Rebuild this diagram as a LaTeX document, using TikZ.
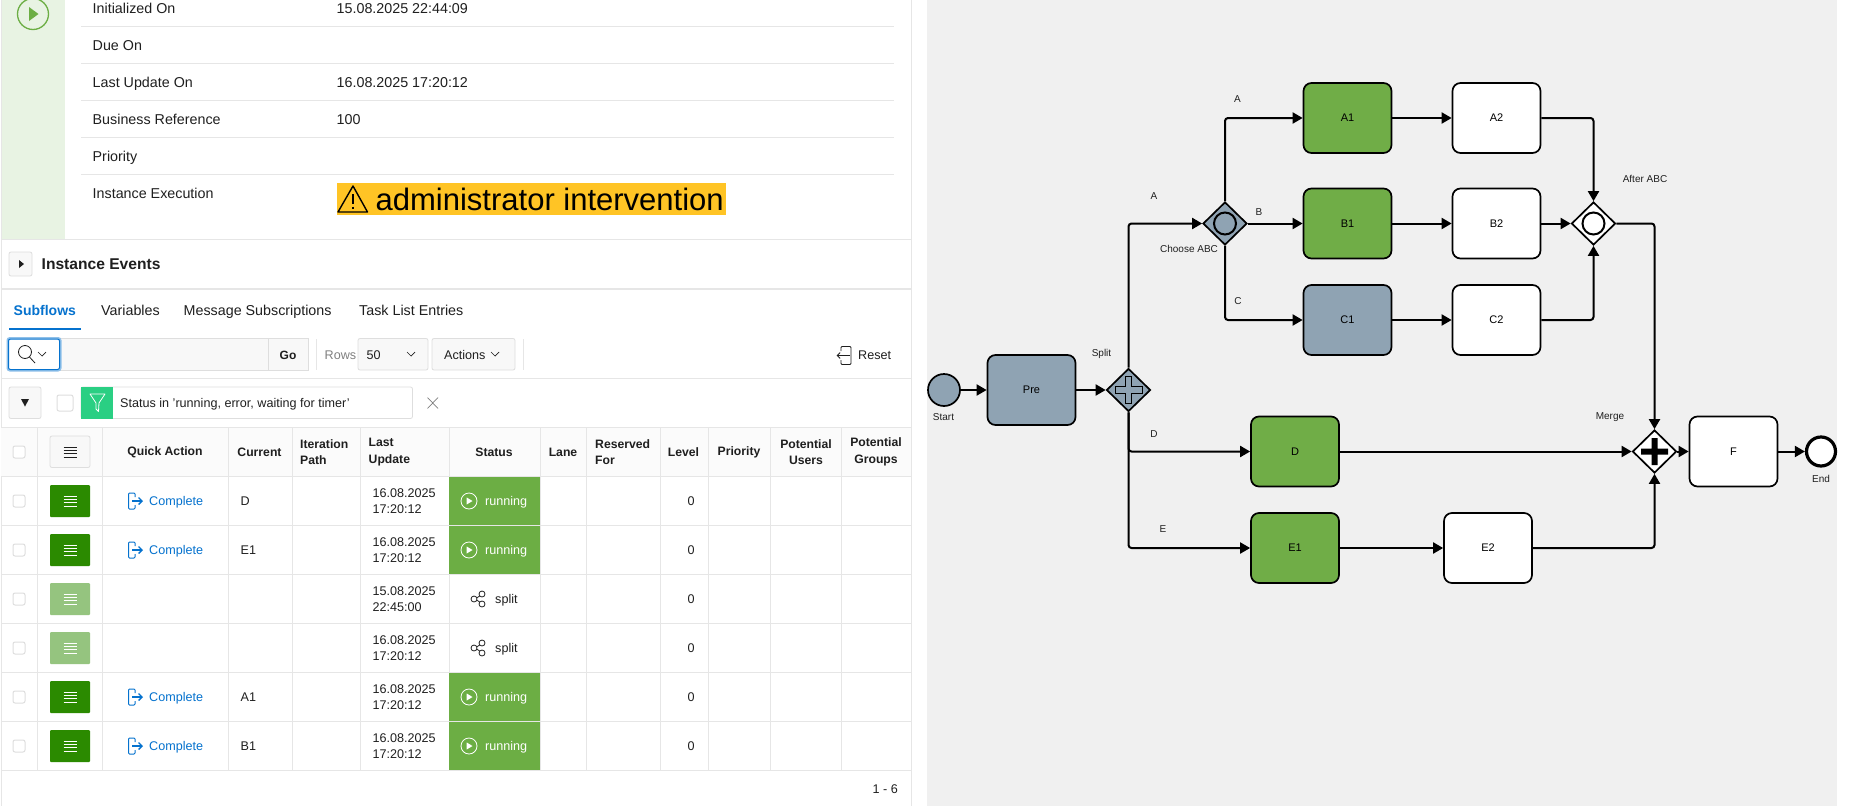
\documentclass[tikz,border=0pt]{standalone}
\usepackage{fontspec}
\setmainfont{Liberation Sans}
\usetikzlibrary{arrows.meta,shapes.geometric}
\definecolor{canvas}{HTML}{F0F0F0}
\definecolor{taskgreen}{HTML}{70AD47}
\definecolor{taskgrey}{HTML}{8FA3B3}
\definecolor{runfill}{HTML}{6CAE44}
\definecolor{stripgreen}{HTML}{E8F3E3}
\definecolor{hairline}{HTML}{E6E6E6}
\definecolor{btnborder}{HTML}{DEDEDE}
\definecolor{btnfill}{HTML}{F8F8F8}
\definecolor{apexblue}{HTML}{0572CE}
\definecolor{menugreen}{HTML}{2B8A00}
\definecolor{menulight}{HTML}{95C47F}
\definecolor{warnfill}{HTML}{FFC425}
\definecolor{chipgreen}{HTML}{2ACF83}
\definecolor{inktext}{HTML}{1F1F1F}
\tikzset{
  task/.style={draw=black, line width=1.7pt, rounded corners=8pt, minimum width=88pt, minimum height=70pt, inner sep=0pt, font=\fontsize{11}{13}\selectfont},
  gateway/.style={diamond, draw=black, line width=1.7pt, minimum width=44pt, minimum height=43pt, inner sep=0pt, aspect=1},
  event/.style={circle, draw=black, line width=1.7pt, minimum size=32pt, inner sep=0pt},
  seqflow/.style={draw=black, line width=2pt, rounded corners=3pt, -{Triangle[length=10pt,width=11pt]}},
  flowlabel/.style={inner sep=0pt, text=inktext, font=\fontsize{10}{12}\selectfont},
  uitext/.style={inner sep=0pt, anchor=west, text=inktext, text height=9.5pt, text depth=0pt, font=\fontsize{14.3}{16}\selectfont},
  celltext/.style={inner sep=0pt, anchor=west, text=inktext, text height=9pt, text depth=0pt, font=\fontsize{12.6}{15}\selectfont},
  headtext/.style={inner sep=0pt, text=inktext, align=center, font=\bfseries\fontsize{12.2}{16.5}\selectfont},
  uibutton/.style={draw=btnborder, fill=btnfill, line width=.8pt, rounded corners=2pt},
  tickbox/.style={draw=btnborder, fill=white, line width=1pt, rounded corners=2pt},
}
\newcommand{\chevmark}[2]{\draw [inktext, line width=.7pt] (#1-4,#2-2) -- (#1,#2+2) -- (#1+4,#2-2);}
\newcommand{\listmark}[3]{\foreach \k in {-5,-1.7,1.7,5} {\draw [#1, line width=.9pt] (#2-6.5,#3+\k) -- (#2+6.5,#3+\k);}}
\newcommand{\playmark}[4]{%
  \draw [#1, line width=#4] (#2,#3) circle (8pt);
  \fill [#1] (#2-2.3,#3-3.5) -- (#2+3.5,#3) -- (#2-2.3,#3+3.5) -- cycle;}
\newcommand{\exitmark}[1]{%
  \draw [apexblue, line width=1pt, rounded corners=1pt] (135,#1-4) -- (135,#1-8) -- (128.5,#1-8) -- (128.5,#1+8) -- (135,#1+8) -- (135,#1+4);
  \draw [apexblue, line width=1.3pt, -{Straight Barb[length=3.5pt,width=7pt]}] (132,#1) -- (143,#1);}
\newcommand{\sharemark}[1]{%
  \draw [inktext, line width=.8pt] (475,#1) -- (482,#1-4.5) (475,#1) -- (482,#1+4.5);
  \draw [inktext, line width=.8pt, fill=white] (474,#1) circle (3pt) (482,#1-5) circle (3pt) (482,#1+5) circle (3pt);}
\begin{document}
\begin{tikzpicture}[x=1pt, y=-1pt]
  \useasboundingbox (0,0) rectangle (1853,806);
  \fill [white] (0,0) rectangle (1853,806);

  \fill [stripgreen] (1,0) rectangle (65,239);
  \draw [runfill, line width=1.3pt] (33,14) circle (15.5pt);
  \fill [runfill] (29,7) -- (38.5,14) -- (29,21) -- cycle;
  \draw [hairline, line width=1pt] (1,0) -- (1,806) (911,0) -- (911,806);
  \foreach \y in {26.5,63.5,100.5,137.5,174.5} {\draw [hairline, line width=.8pt] (81,\y) -- (894,\y);}
  \node [uitext] (initlabel) at (92.5,8.5) {Initialized On};
  \node [uitext] (initvalue) at (336.5,8.5) {15.08.2025 22:44:09};
  \node [uitext] (duelabel) at (92.5,45.5) {Due On};
  \node [uitext] (updlabel) at (92.5,82.5) {Last Update On};
  \node [uitext] (updvalue) at (336.5,82.5) {16.08.2025 17:20:12};
  \node [uitext] (buslabel) at (92.5,119.5) {Business Reference};
  \node [uitext] (busvalue) at (336.5,119.5) {100};
  \node [uitext] (priolabel) at (92.5,156.5) {Priority};
  \node [uitext] (execlabel) at (92.5,193.5) {Instance Execution};
  \fill [warnfill] (336.5,183) rectangle (726,215);
  \draw [black, line width=1.4pt, line join=round] (353,186) -- (367.5,212) -- (338,212) -- cycle;
  \draw [black, line width=1.8pt] (353,194) -- (353,204) (353,206.5) -- (353,208.5);
  \node [inner sep=0pt, anchor=west, text=black, font=\fontsize{31}{34}\selectfont] (execvalue) at (375.5,199) {administrator intervention};

  \draw [hairline, line width=1.5pt] (1,239.5) -- (911,239.5) (1,289) -- (911,289);
  \draw [uibutton] (9,252) rectangle (32,276);
  \fill [inktext] (19,260) -- (24,264) -- (19,268) -- cycle;
  \node [inner sep=0pt, anchor=west, text=inktext, font=\bfseries\fontsize{15.6}{20}\selectfont] (eventstitle) at (41.5,264.5) {Instance Events};

  \node [uitext, text=apexblue, font=\bfseries\fontsize{14}{16}\selectfont] (tabsubflows) at (13.5,311) {Subflows};
  \draw [apexblue, line width=2pt] (9,329) -- (81,329);
  \node [uitext] (tabvars) at (101,311) {Variables};
  \node [uitext] (tabmsg) at (183.5,311) {Message Subscriptions};
  \node [uitext] (tabtasks) at (359,311) {Task List Entries};

  \draw [btnborder, fill=btnfill, line width=.8pt] (60,338.5) rectangle (308,370);
  \draw [btnborder, line width=.8pt] (268,338.5) -- (268,370);
  \draw [hairline, line width=.8pt] (316,339) -- (316,370) (523,339) -- (523,370);
  \draw [apexblue!45, line width=3pt, rounded corners=2pt] (8,338.5) rectangle (60,370);
  \draw [apexblue, fill=white, line width=1pt, rounded corners=2pt] (8.5,339) rectangle (59.5,369.5);
  \draw [inktext, line width=.8pt] (25,352) circle (6.5pt) (29.5,357) -- (35,363);
  \chevmark{42}{354}
  \node [celltext, font=\bfseries\fontsize{12}{15}\selectfont] (gobtn) at (279.5,354.5) {Go};
  \node [celltext, text=gray] (rowslabel) at (324.5,354.5) {Rows};
  \draw [uibutton] (358,338.5) rectangle (428,370);
  \node [celltext] (rowsvalue) at (366.5,354.5) {50};
  \chevmark{411}{354}
  \draw [uibutton] (432,338.5) rectangle (515,370);
  \node [celltext] (actionsbtn) at (444,354.5) {Actions};
  \chevmark{495}{354}
  \draw [inktext, line width=.8pt, rounded corners=1pt] (841,351) -- (841,346.5) -- (851,346.5) -- (851,364.5) -- (841,364.5) -- (841,360);
  \draw [inktext, line width=.9pt, -{Straight Barb[length=3pt,width=6pt]}] (850,355.5) -- (836.5,355.5);
  \node [celltext] (resetbtn) at (858,354.5) {Reset};
  \draw [hairline, line width=1pt] (1,378.5) -- (911,378.5);

  \draw [uibutton] (9,387) rectangle (41,418.5);
  \fill [inktext] (21,399) -- (29,399) -- (25,406.5) -- cycle;
  \draw [tickbox] (57,395) rectangle (73,411);
  \draw [btnborder, line width=.8pt, rounded corners=2pt] (81,387) rectangle (412.5,418.5);
  \fill [chipgreen] (81,387) rectangle (113,418.5);
  \draw [white, line width=.8pt, line join=round] (90,394) -- (105,394) -- (99,403) -- (98.5,411.5) -- (96,409) -- (96,403) -- cycle;
  \node [celltext] (filtertext) at (120,403) {Status in 'running, error, waiting for timer'};
  \draw [gray, line width=.7pt] (427.5,397.5) -- (438,408.5) (438,397.5) -- (427.5,408.5);
  \draw [hairline, line width=1pt] (1,427.5) -- (911,427.5);

  \fill [btnfill!50] (1,428) rectangle (911,476);
  \foreach \y in {476.5,525.5,574.5,623.5,672.5,721.5,770} {\draw [hairline, line width=1pt] (1,\y) -- (911,\y);}
  \foreach \x in {37.5,102.5,228,292,360,449,540.5,586.5,660,708.5,770.5,841.5} {\draw [hairline, line width=.8pt] (\x,427.5) -- (\x,770);}
  \draw [tickbox] (13,446) rectangle (25,458);
  \draw [uibutton] (50,436) rectangle (90,467.5);
  \listmark{inktext}{70}{452}
  \node [headtext] (hdaction) at (165,452) {Quick Action};
  \node [headtext] (hdcurrent) at (259.5,452) {Current};
  \node [headtext, align=left, anchor=west] (hditer) at (300,452) {Iteration\\Path};
  \node [headtext, align=left, anchor=west] (hdupdate) at (368.5,452) {Last\\Update};
  \node [headtext] (hdstatus) at (494,452) {Status};
  \node [headtext] (hdlane) at (563,452) {Lane};
  \node [headtext, align=left, anchor=west] (hdreserved) at (595,452) {Reserved\\For};
  \node [headtext] (hdlevel) at (683.5,452) {Level};
  \node [headtext] (hdprio) at (739,452) {Priority};
  \node [headtext] (hdusers) at (806,452) {Potential\\Users};
  \node [headtext] (hdgroups) at (876,452) {Potential\\Groups};

  \foreach \i/\dt/\tm in {0/16.08.2025/17:20:12, 1/16.08.2025/17:20:12, 2/15.08.2025/22:45:00, 3/16.08.2025/17:20:12, 4/16.08.2025/17:20:12, 5/16.08.2025/17:20:12} {
    \pgfmathsetmacro{\ry}{501+49*\i}
    \draw [tickbox] (13,\ry-6) rectangle (25,\ry+6);
    \node [celltext] (date\i) at (372.5,\ry-8) {\dt};
    \node [celltext] (time\i) at (372.5,\ry+8) {\tm};
    \node [celltext, anchor=center] (level\i) at (691,\ry) {0};
  }
  \foreach \i/\cur in {0/D, 1/E1, 4/A1, 5/B1} {
    \pgfmathsetmacro{\ry}{501+49*\i}
    \fill [menugreen, rounded corners=1pt] (50,\ry-16) rectangle (90,\ry+16);
    \listmark{white}{70}{\ry}
    \exitmark{\ry}
    \node [celltext, text=apexblue] (done\i) at (149,\ry) {Complete};
    \node [celltext] (current\i) at (240.5,\ry) {\cur};
    \fill [runfill] (449,\ry-24) rectangle (540,\ry+24);
    \playmark{white}{469}{\ry}{.8pt}
    \node [celltext, text=white] (status\i) at (485,\ry) {running};
  }
  \foreach \i in {2,3} {
    \pgfmathsetmacro{\ry}{501+49*\i}
    \fill [menulight, rounded corners=1pt] (50,\ry-16) rectangle (90,\ry+16);
    \listmark{white}{70}{\ry}
    \sharemark{\ry}
    \node [celltext] (status\i) at (495,\ry) {split};
  }
  \node [celltext, anchor=east] (pagecount) at (898,788.5) {1 - 6};

  \fill [canvas] (927,0) rectangle (1837,806);
  \node [event, fill=taskgrey] (startev) at (944,390) {};
  \node [task, fill=taskgrey] (pre) at (1031.5,390) {Pre};
  \node [gateway, fill=taskgrey] (splitgw) at (1128.5,390) {};
  \node [gateway, fill=taskgrey] (choosegw) at (1225,223.5) {};
  \node [task, fill=taskgreen] (a1) at (1347.5,118) {A1};
  \node [task, fill=taskgreen] (b1) at (1347.5,223.5) {B1};
  \node [task, fill=taskgrey] (c1) at (1347.5,320) {C1};
  \node [task, fill=white] (a2) at (1496.5,118) {A2};
  \node [task, fill=white] (b2) at (1496.5,223.5) {B2};
  \node [task, fill=white] (c2) at (1496.5,320) {C2};
  \node [gateway, fill=white] (aftergw) at (1593.5,223.5) {};
  \node [task, fill=taskgreen] (dtask) at (1295,451.5) {D};
  \node [task, fill=taskgreen] (e1) at (1295,548) {E1};
  \node [task, fill=white] (e2) at (1488,548) {E2};
  \node [gateway, fill=white] (mergegw) at (1654.5,451.5) {};
  \node [task, fill=white] (ftask) at (1733.5,451.5) {F};
  \node [event, fill=white, line width=3.2pt, minimum size=29pt] (endev) at (1821,451.5) {};

  \node [circle, draw=black, line width=2pt, minimum size=22pt, inner sep=0pt] (choosemark) at (1225,223.5) {};
  \node [circle, draw=black, line width=2pt, minimum size=22pt, inner sep=0pt] (aftermark) at (1593.5,223.5) {};
  \draw [black, line width=.9pt] (1125.2,376.5) -- (1131.8,376.5) -- (1131.8,386.7) -- (1142,386.7) -- (1142,393.3) -- (1131.8,393.3) -- (1131.8,403.5) -- (1125.2,403.5) -- (1125.2,393.3) -- (1115,393.3) -- (1115,386.7) -- (1125.2,386.7) -- cycle;
  \fill [black] (1651.5,438) rectangle (1657.5,465) (1641,448.5) rectangle (1668,454.5);

  \draw [seqflow] (startev) to (pre);
  \draw [seqflow] (pre) to (splitgw);
  \draw [seqflow] (splitgw.north) |- (choosegw.west);
  \draw [seqflow] (choosegw.north) |- (a1.west);
  \draw [seqflow] (choosegw.east) -- (b1.west);
  \draw [seqflow] (choosegw.south) |- (c1.west);
  \draw [seqflow] (a1) to (a2);
  \draw [seqflow] (b1) to (b2);
  \draw [seqflow] (c1) to (c2);
  \draw [seqflow] (a2.east) -| (aftergw.north);
  \draw [seqflow] (b2) to (aftergw);
  \draw [seqflow] (c2.east) -| (aftergw.south);
  \draw [seqflow] (aftergw.east) -| (mergegw.north);
  \draw [seqflow] (splitgw.south) |- (dtask.west);
  \draw [seqflow] (splitgw.south) |- (e1.west);
  \draw [seqflow] (dtask) to (mergegw);
  \draw [seqflow] (e1) to (e2);
  \draw [seqflow] (e2.east) -| (mergegw.south);
  \draw [seqflow] (mergegw) to (ftask);
  \draw [seqflow] (ftask) to (endev);

  \node [flowlabel] (startlbl) at (943.5,417) {Start};
  \node [flowlabel] (splitlbl) at (1101.5,354) {Split};
  \node [flowlabel] (flowa) at (1154,196.5) {A};
  \node [flowlabel] (flowaa) at (1237.5,99.5) {A};
  \node [flowlabel] (flowb) at (1259,212.5) {B};
  \node [flowlabel] (choicelbl) at (1189,248.5) {Choose ABC};
  \node [flowlabel] (flowc) at (1238,301.5) {C};
  \node [flowlabel] (afterlbl) at (1645,178.5) {After ABC};
  \node [flowlabel] (flowd) at (1154,434.5) {D};
  \node [flowlabel] (flowe) at (1163,529) {E};
  \node [flowlabel] (mergelbl) at (1610,417.5) {Merge};
  \node [flowlabel] (endlbl) at (1821,479) {End};
\end{tikzpicture}
\end{document}
